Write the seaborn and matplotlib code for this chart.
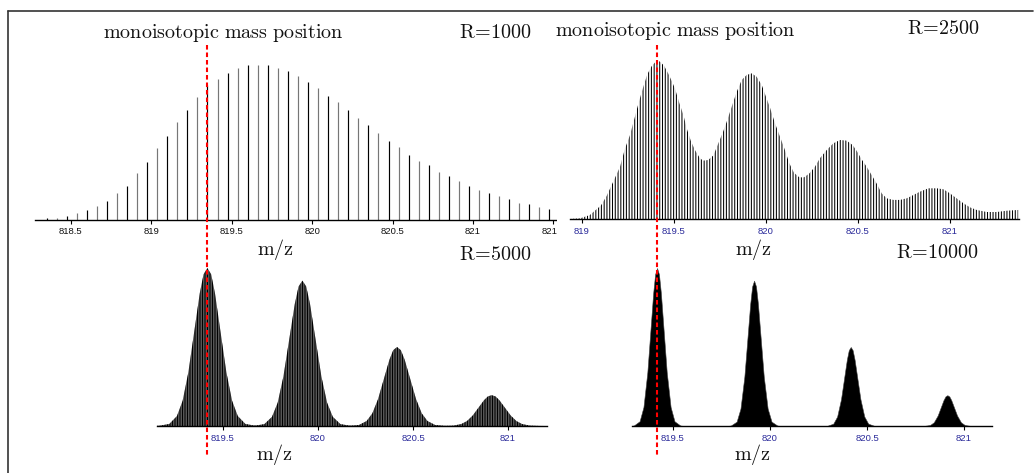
import numpy as np
import matplotlib
matplotlib.use("Agg")
import matplotlib.pyplot as plt
import seaborn as sns
from matplotlib.lines import Line2D
from matplotlib.patches import Rectangle
from matplotlib.transforms import blended_transform_factory

# ------------------------------------------------------------------ data
panel_titles = ["R=1000", "R=2500", "R=5000", "R=10000"]
annotation = "monoisotopic mass position"
x_label = "m/z"
mono_mass = 819.418

# R=1000: profile sampled as sticks
mz_r1000 = [818.35, 818.4125, 818.475, 818.5375, 818.6, 818.6625, 818.725, 818.7875,
            818.85, 818.9125, 818.975, 819.0375, 819.1, 819.1625, 819.225, 819.2875,
            819.35, 819.4125, 819.475, 819.5375, 819.6, 819.6625, 819.725, 819.7875,
            819.85, 819.9125, 819.975, 820.0375, 820.1, 820.1625, 820.225, 820.2875,
            820.35, 820.4125, 820.475, 820.5375, 820.6, 820.6625, 820.725, 820.7875,
            820.85, 820.9125, 820.975, 821.0375, 821.1, 821.1625, 821.225, 821.2875,
            821.35, 821.4125, 821.475]
int_r1000 = [0.01, 0.01, 0.02, 0.04, 0.06, 0.085, 0.12, 0.17, 0.22, 0.30,
             0.37, 0.46, 0.54, 0.63, 0.71, 0.79, 0.87, 0.91, 0.95, 0.98,
             1.0, 1.0, 1.0, 0.98, 0.96, 0.93, 0.89, 0.85, 0.80, 0.76,
             0.71, 0.66, 0.61, 0.56, 0.51, 0.47, 0.42, 0.38, 0.35, 0.31,
             0.28, 0.25, 0.22, 0.19, 0.17, 0.15, 0.13, 0.11, 0.10, 0.08, 0.065]

# R=2500: envelope of the dense sticks
mz_r2500 = [818.935, 818.989, 819.043, 819.103, 819.134, 819.170, 819.207, 819.234,
            819.261, 819.288, 819.310, 819.333, 819.355, 819.379, 819.406, 819.424,
            819.446, 819.469, 819.487, 819.505, 819.529, 819.551, 819.572, 819.592,
            819.614, 819.641, 819.659, 819.686, 819.714, 819.741, 819.765, 819.786,
            819.814, 819.841, 819.868, 819.895, 819.922, 819.949, 819.977, 820.000,
            820.022, 820.049, 820.076, 820.103, 820.127, 820.152, 820.181, 820.207,
            820.236, 820.266, 820.293, 820.330, 820.366, 820.402, 820.438, 820.471,
            820.496, 820.520, 820.547, 820.574, 820.601, 820.629, 820.656, 820.692,
            820.728, 820.765, 820.801, 820.837, 820.882, 820.928, 820.964, 821.000,
            821.036, 821.073, 821.109, 821.145, 821.199, 821.254, 821.308, 821.371]
int_r2500 = [0.0, 0.004, 0.025, 0.085, 0.145, 0.235, 0.329, 0.444,
             0.528, 0.644, 0.74, 0.83, 0.91, 0.962, 0.996, 0.99,
             0.964, 0.915, 0.87, 0.822, 0.73, 0.655, 0.56, 0.49,
             0.434, 0.382, 0.367, 0.371, 0.40, 0.476, 0.543, 0.61,
             0.707, 0.80, 0.874, 0.906, 0.916, 0.895, 0.843, 0.769,
             0.70, 0.602, 0.518, 0.434, 0.35, 0.291, 0.262, 0.262,
             0.287, 0.329, 0.382, 0.434, 0.476, 0.497, 0.493, 0.465,
             0.423, 0.375, 0.329, 0.277, 0.224, 0.161, 0.13, 0.12,
             0.12, 0.13, 0.151, 0.172, 0.193, 0.193, 0.187, 0.161,
             0.13, 0.099, 0.073, 0.057, 0.044, 0.044, 0.052, 0.057]

# resolved isotope peaks (R=5000 and R=10000)
iso_mz = [819.418, 819.918, 820.416, 820.914]
iso_int = [1.00, 0.92, 0.50, 0.195]

# peak shape read from the first peak: offset (m/z) and relative height
shape_off_r5000 = [-0.28, -0.25, -0.20, -0.16, -0.13, -0.10, -0.07, -0.04, -0.02, 0.0,
                   0.02, 0.04, 0.07, 0.10, 0.13, 0.16, 0.20, 0.25, 0.28]
shape_rel_r5000 = [0.0, 0.002, 0.013, 0.063, 0.16, 0.34, 0.59, 0.84, 0.96, 1.0,
                   0.96, 0.84, 0.59, 0.34, 0.16, 0.063, 0.013, 0.002, 0.0]
shape_off_r10000 = [-0.14, -0.12, -0.09, -0.07, -0.05, -0.035, -0.02, -0.01, 0.0,
                    0.01, 0.02, 0.035, 0.05, 0.07, 0.09, 0.12, 0.14]
shape_rel_r10000 = [0.0, 0.003, 0.03, 0.12, 0.34, 0.59, 0.84, 0.96, 1.0,
                    0.96, 0.84, 0.59, 0.34, 0.12, 0.03, 0.003, 0.0]

ticks_r1000 = [818.5, 819, 819.5, 820, 820.5, 821, 821.5]
ticklabels_r1000 = ["818.5", "819", "819.5", "820", "820.5", "821", "821.5"]
ticks_r2500 = [819, 819.5, 820, 820.5, 821]
ticklabels_r2500 = ["819", "819.5", "820", "820.5", "821"]
ticks_hi = [819.5, 820, 820.5, 821]
ticklabels_hi = ["819.5", "820", "820.5", "821"]

# ------------------------------------------------------------------ style
W, H = 1036, 473
DPI = 100
sns.set_theme(style="white")
plt.rcParams["font.family"] = ["Liberation Sans", "DejaVu Sans"]
plt.rcParams["mathtext.fontset"] = "cm"
plt.rcParams["hatch.linewidth"] = 0.75

fig = plt.figure(figsize=(W / DPI, H / DPI), dpi=DPI)
fig.patch.set_facecolor("white")


def px_axes(left, right, bottom, top, z):
    ax = fig.add_axes([left / W, 1 - bottom / H, (right - left) / W, (bottom - top) / H])
    ax.set_zorder(z)
    ax.patch.set_alpha(0)
    return ax


def style_axis(ax, xlim, ticks, labels, labelcolor):
    ax.set_xlim(*xlim)
    ax.set_ylim(0, 1)
    ax.set_xticks(ticks)
    ax.set_xticklabels(labels)
    ax.set_yticks([])
    sns.despine(ax=ax, left=True, top=True, right=True)
    ax.spines["bottom"].set_color("black")
    ax.spines["bottom"].set_linewidth(1.0)
    ax.tick_params(axis="x", direction="out", length=3, width=0.8, color="black",
                   pad=2.5, labelsize=6.8, labelcolor=labelcolor, bottom=True)
    ax.grid(False)


# panel R=1000
ax1 = px_axes(35, 557, 219.5, 65, 0)
cols = ["#000000" if i % 2 == 0 else "#777777" for i in range(len(mz_r1000))]
ax1.vlines(mz_r1000, 0, int_r1000, colors=cols, linewidth=0.85, clip_on=False)
style_axis(ax1, (818.278, 821.522), ticks_r1000, ticklabels_r1000, "#111111")

# white cover for the right image block
fig.add_artist(Rectangle((557 / W, 1 - 245 / H), (W - 557) / W, (245 - 14) / H,
                         transform=fig.transFigure, facecolor="white",
                         edgecolor="none", zorder=0.5))

# panel R=2500
ax2 = px_axes(570, 1019, 219, 60, 1)
ax2.fill_between(mz_r2500, 0, int_r2500, facecolor="white", edgecolor="black",
                 hatch="||||||", linewidth=0)
style_axis(ax2, (818.935, 821.375), ticks_r2500, ticklabels_r2500, "#2a2a9a")

# panel R=5000
ax3 = px_axes(157, 547, 426, 268, 1)
for c, h in zip(iso_mz, iso_int):
    xs = [c + o for o in shape_off_r5000]
    ys = [h * r for r in shape_rel_r5000]
    ax3.fill_between(xs, 0, ys, facecolor="#8a8a8a", edgecolor="black",
                     hatch="||||||||||", linewidth=0)
style_axis(ax3, (819.153, 821.205), ticks_hi, ticklabels_hi, "#2a2a9a")

# panel R=10000
ax4 = px_axes(632, 992, 426, 268, 1)
for c, h in zip(iso_mz, iso_int):
    xs = [c + o for o in shape_off_r10000]
    ys = [h * r for r in shape_rel_r10000]
    ax4.fill_between(xs, 0, ys, facecolor="black", edgecolor="#444444", linewidth=0.4)
style_axis(ax4, (819.289, 821.144), ticks_hi, ticklabels_hi, "#2a2a9a")

# monoisotopic mass markers (dashed red)
for ax in (ax3, ax4):
    tr = blended_transform_factory(ax.transData, fig.transFigure)
    fig.add_artist(Line2D([mono_mass, mono_mass], [1 - 45 / H, 1 - 455 / H],
                          transform=tr, color="#ff0000", linewidth=1.5,
                          dashes=(2.2, 1.4), zorder=4))

# texts
serif = dict(color="#111111", zorder=5)
FS = 14.5
fig.text(223 / W, 1 - 33 / H, r"$\mathrm{monoisotopic\ mass\ position}$",
         ha="center", va="center", fontsize=FS, **serif)
fig.text(675 / W, 1 - 31 / H, r"$\mathrm{monoisotopic\ mass\ position}$",
         ha="center", va="center", fontsize=FS, **serif)
title_pos = [(532, 33), (980, 29), (532, 255), (979, 253)]
for t, (x, y) in zip(panel_titles, title_pos):
    fig.text(x / W, 1 - y / H, r"$\mathrm{%s\!=\!%s}$" % tuple(t.split("=")),
             ha="right", va="center", fontsize=FS, **serif)
for (x, y) in [(275, 249), (753, 249), (274, 454), (752, 454)]:
    fig.text(x / W, 1 - y / H, r"$\mathrm{%s}$" % x_label, ha="center",
             va="center", fontsize=FS, **serif)

# outer frame
frame_kw = dict(transform=fig.transFigure, color="#333333", linewidth=1.2, zorder=6)
fig.add_artist(Line2D([8 / W, 8 / W], [0, 1 - 11 / H], **frame_kw))
fig.add_artist(Line2D([8 / W, 1033 / W], [1 - 11 / H, 1 - 11 / H], **frame_kw))

fig.savefig("out.png", dpi=DPI, facecolor="white")
